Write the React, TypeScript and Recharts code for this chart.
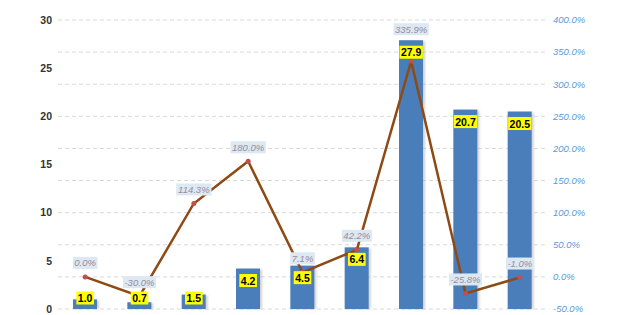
import React from "react";
import {
  ComposedChart,
  Bar,
  Line,
  Scatter,
  XAxis,
  YAxis,
  CartesianGrid,
  LabelList,
} from "recharts";

const categories = ["1", "2", "3", "4", "5", "6", "7", "8", "9"];
const barValues = [1.0, 0.7, 1.5, 4.2, 4.5, 6.4, 27.9, 20.7, 20.5];
const growthValues = [0.0, -30.0, 114.3, 180.0, 7.1, 42.2, 335.9, -25.8, -1.0];
const leftTicks = [0, 5, 10, 15, 20, 25, 30];
const rightTicks = [-50, 0, 50, 100, 150, 200, 250, 300, 350, 400];

const data = categories.map((c, i) => ({
  name: c,
  value: barValues[i],
  growth: growthValues[i],
}));

const W = 627;
const H = 315;
const MARGIN = { top: 20, right: 0, bottom: 6, left: 0 };
const PLOT_TOP = MARGIN.top;
const PLOT_BOTTOM = H - MARGIN.bottom;
const LEFT_MAX = 30;

const FONT = "'Liberation Sans', Arial, sans-serif";

function textWidth(s: string, size: number) {
  let w = 0;
  for (const ch of s) {
    if (ch >= "0" && ch <= "9") w += 0.556;
    else if (ch === ".") w += 0.278;
    else if (ch === "%") w += 0.889;
    else if (ch === "-") w += 0.333;
    else w += 0.556;
  }
  return w * size;
}

function barLabelCenter(topY: number) {
  return Math.min(topY + 12, PLOT_BOTTOM - 11);
}

const BarValueLabel = (props: any) => {
  const { cx, cy, payload } = props;
  if (cx == null || cy == null) return null;
  const txt = Number(payload.value).toFixed(1);
  const fs = 10.5;
  const w = textWidth(txt, fs) + 3;
  const h = 13;
  const c = barLabelCenter(cy);
  return (
    <g>
      <rect x={cx - w / 2} y={c - h / 2} width={w} height={h} fill="#ffff00" />
      <text
        x={cx}
        y={c}
        textAnchor="middle"
        dominantBaseline="central"
        fontFamily={FONT}
        fontSize={fs}
        fontWeight="bold"
        fill="#000"
      >
        {txt}
      </text>
    </g>
  );
};

const GrowthLabel = (props: any) => {
  const { x, y, value } = props;
  let index = props.index;
  if (index == null) index = growthValues.indexOf(value);
  if (x == null || y == null) return null;
  const txt = Number(value).toFixed(1) + "%";
  const fs = 9.5;
  const w = textWidth(txt, fs) + 3;
  const h = 12;
  let c = y - 14;
  const bv = barValues[index];
  if (bv != null) {
    const barTop = PLOT_TOP + (PLOT_BOTTOM - PLOT_TOP) * (1 - bv / LEFT_MAX);
    const bc = barLabelCenter(barTop);
    if (Math.abs(c - bc) < 14 && bc > y - 30 && bc < y + 20) c = bc - 23;
  }
  return (
    <g>
      <rect x={x - w / 2} y={c - h / 2} width={w} height={h} fill="#dce8f2" />
      <text
        x={x}
        y={c}
        textAnchor="middle"
        dominantBaseline="central"
        fontFamily={FONT}
        fontSize={fs}
        fontStyle="italic"
        fill="#9b8a9c"
      >
        {txt}
      </text>
    </g>
  );
};

const ShadowBar = (props: any) => {
  const { x, y, width, height, fill } = props;
  if (height == null || height <= 0) return null;
  return (
    <g>
      <rect x={x + 2} y={y + 1} width={width} height={height - 1} fill="#9a9a9a" opacity={0.45} filter="url(#barBlur)" />
      <rect x={x} y={y} width={width} height={height} fill={fill} />
    </g>
  );
};

export default function App() {
  return (
    <div style={{ position: "absolute", left: 0, top: 0, width: W, height: H, background: "#fff" }}>
      <ComposedChart width={W} height={H} data={data} margin={MARGIN}>
        <defs>
          <filter id="barBlur" x="-20%" y="-20%" width="140%" height="140%">
            <feGaussianBlur stdDeviation="1.2" />
          </filter>
        </defs>
        <CartesianGrid
          yAxisId="right"
          vertical={false}
          stroke="#d9d9d9"
          strokeDasharray="4 3"
        />
        <XAxis
          dataKey="name"
          tick={false}
          tickLine={false}
          height={0}
          axisLine={{ stroke: "#d9d9d9" }}
        />
        <YAxis
          yAxisId="left"
          orientation="left"
          domain={[0, LEFT_MAX]}
          ticks={leftTicks}
          width={58}
          axisLine={false}
          tickLine={false}
          tickSize={0}
          tickMargin={6}
          tick={{ fontFamily: FONT, fontSize: 10.5, fill: "#333", fontWeight: "bold" }}
        />
        <YAxis
          yAxisId="right"
          orientation="right"
          domain={[-50, 400]}
          ticks={rightTicks}
          width={80}
          axisLine={false}
          tickLine={false}
          tickSize={0}
          tickMargin={6}
          tickFormatter={(v: number) => v.toFixed(1) + "%"}
          tick={{ fontFamily: FONT, fontSize: 9.5, fill: "#5b9bd5", fontStyle: "italic" }}
        />
        <Bar
          yAxisId="left"
          dataKey="value"
          fill="#4a7ebb"
          barSize={24}
          shape={ShadowBar}
          isAnimationActive={false}
        />
        <Line
          yAxisId="right"
          dataKey="growth"
          stroke="#8e4a14"
          strokeWidth={2.5}
          dot={{ r: 2.5, fill: "#c0504d", stroke: "none" }}
          activeDot={false}
          isAnimationActive={false}
        >
          <LabelList dataKey="growth" content={GrowthLabel} />
        </Line>
        <Scatter
          yAxisId="left"
          dataKey="value"
          shape={BarValueLabel}
          isAnimationActive={false}
        />
      </ComposedChart>
    </div>
  );
}
